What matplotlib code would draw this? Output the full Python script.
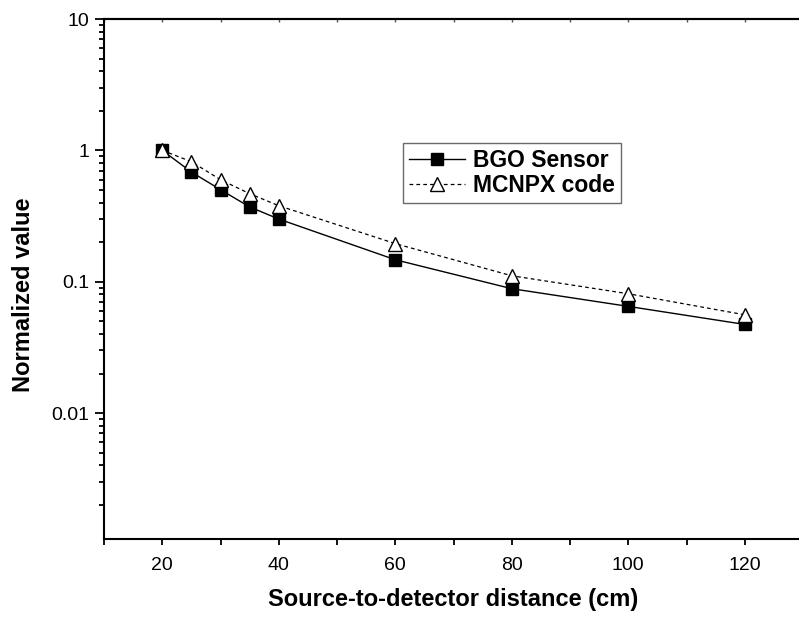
import numpy as np
import matplotlib
matplotlib.use('Agg')
import matplotlib.pyplot as plt
from matplotlib.ticker import LogLocator, FixedLocator, NullFormatter, FuncFormatter

# Dados
distance = [20, 25, 30, 35, 40, 60, 80, 100, 120]
bgo_sensor = [1.0, 0.684, 0.502, 0.371, 0.300, 0.147, 0.0885, 0.0649, 0.0473]
mcnpx_code = [1.0, 0.82, 0.598, 0.468, 0.379, 0.195, 0.111, 0.081, 0.056]
x_ticks = [20, 40, 60, 80, 100, 120]
x_minor = [10, 30, 50, 70, 90, 110]
y_ticks = [0.01, 0.1, 1, 10]
y_tick_labels = ['0.01', '0.1', '1', '10']

plt.rcParams['font.family'] = ['Liberation Sans', 'DejaVu Sans']

fig = plt.figure(figsize=(7.99, 6.2), dpi=100)
ax = fig.add_axes([104 / 799, 81 / 620, 699 / 799, 520 / 620])

ax.plot(distance, bgo_sensor, '-', color='black', lw=1.0,
        marker='s', ms=8, mfc='black', mec='black', label='BGO Sensor')
ax.plot(distance, mcnpx_code, '--', color='black', lw=0.9, dashes=(3, 2.5),
        marker='^', ms=10.5, mfc='white', mec='black', mew=1.0, label='MCNPX code')

ax.set_yscale('log')
ax.set_xlim(10, 130)
ax.set_ylim(0.0011, 10)

ax.xaxis.set_major_locator(FixedLocator(x_ticks))
ax.xaxis.set_minor_locator(FixedLocator(x_minor))
ax.yaxis.set_major_locator(FixedLocator(y_ticks))
ax.yaxis.set_major_formatter(FuncFormatter(lambda v, p: y_tick_labels[y_ticks.index(v)] if v in y_ticks else ''))
ax.yaxis.set_minor_locator(LogLocator(base=10, subs=np.arange(2, 10)))
ax.yaxis.set_minor_formatter(NullFormatter())

for s in ax.spines.values():
    s.set_linewidth(1.5)
ax.spines['right'].set_visible(False)

ax.tick_params(axis='both', which='both', direction='out', width=1.3, labelsize=14)
ax.tick_params(axis='y', which='major', length=6.5, pad=4)
ax.tick_params(axis='y', which='minor', length=3.5)
ax.tick_params(axis='x', which='both', length=4, pad=9)

# pequenos ticks no eixo de cima
top = ax.secondary_xaxis('top')
top.xaxis.set_major_locator(FixedLocator(x_ticks + x_minor))
top.tick_params(direction='in', length=2, width=1, labeltop=False, color='#555555')
top.spines['top'].set_linewidth(1.5)

ax.set_xlabel('Source-to-detector distance (cm)', fontsize=17, fontweight='bold')
ax.set_ylabel('Normalized value', fontsize=17, fontweight='bold')
ax.xaxis.set_label_coords(0.499, -0.094)
ax.yaxis.set_label_coords(-0.098, 0.469)

leg = ax.legend(loc='upper left', bbox_to_anchor=(0.428, 0.7615), borderaxespad=0,
                fancybox=False, edgecolor='#444444', handlelength=2.45, handletextpad=0.35,
                borderpad=0.25, labelspacing=0.1, prop={'weight': 'bold', 'size': 16.5})
leg.get_frame().set_linewidth(1.0)

fig.savefig('out.png', dpi=100)
